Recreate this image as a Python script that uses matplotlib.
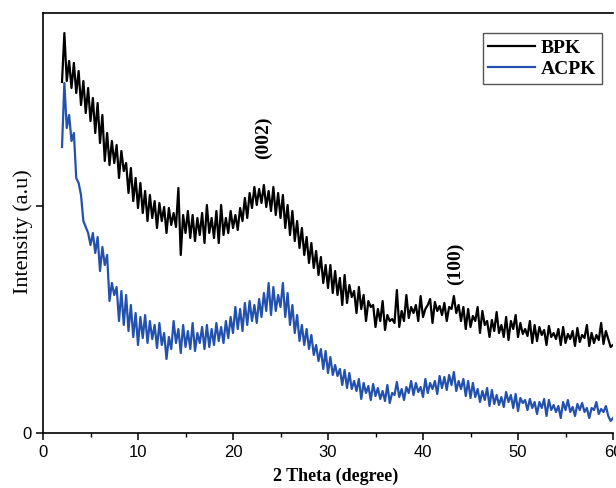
import numpy as np
import matplotlib
matplotlib.use("Agg")
import matplotlib.pyplot as plt
from matplotlib.ticker import MultipleLocator

# 2 theta grid (degree), 0.25 step from 2 to 60
two_theta = np.arange(2.0, 60.001, 0.25)

bpk = [
    351, 400, 352, 372,
    345, 370, 340, 362,
    328, 352, 320, 345,
    312, 335, 300, 330,
    290, 318, 272, 300,
    268, 292, 270, 288,
    255, 282, 262, 270,
    240, 265, 232, 255,
    225, 250, 220, 242,
    212, 238, 215, 232,
    205, 230, 212, 226,
    200, 225, 208, 220,
    206, 245, 178, 218,
    200, 222, 195, 218,
    192, 215, 198, 220,
    190, 228, 200, 215,
    195, 222, 190, 228,
    198, 215, 200, 222,
    205, 218, 203, 225,
    212, 235, 215, 240,
    225, 246, 228, 244,
    230, 248, 226, 242,
    222, 246, 218, 240,
    215, 238, 205, 228,
    198, 222, 192, 212,
    185, 205, 178, 196,
    170, 190, 165, 182,
    158, 176, 150, 168,
    145, 168, 140, 162,
    138, 155, 128, 158,
    130, 148, 136, 142,
    120, 146, 124, 138,
    112, 132, 126, 128,
    106, 124, 112, 132,
    103, 118, 112, 114,
    110, 143, 106, 122,
    112, 138, 115, 126,
    120, 128, 112, 137,
    116, 124, 128, 134,
    110, 131, 122, 127,
    118, 130, 112, 126,
    124, 137, 120, 128,
    112, 126, 104, 124,
    106, 117, 112, 126,
    100, 122, 108, 112,
    96, 113, 102, 121,
    100, 108, 96, 116,
    93, 112, 104, 118,
    96, 110, 99, 104,
    97, 112, 90, 108,
    92, 106, 98, 103,
    88, 107, 96, 100,
    94, 104, 88, 106,
    90, 99, 94, 102,
    87, 105, 91, 98,
    95, 108, 87, 100,
    90, 98, 93, 110,
    89, 102, 94, 86,
    88,
]

acpk = [
    286, 350, 305, 318,
    292, 300, 255, 250,
    238, 212, 206, 200,
    188, 200, 180, 196,
    162, 186, 168, 178,
    132, 150, 138, 146,
    112, 142, 108, 138,
    102, 128, 96, 120,
    88, 116, 95, 118,
    90, 112, 94, 108,
    85, 110, 88, 100,
    74, 96, 84, 112,
    90, 104, 80, 108,
    86, 102, 84, 110,
    82, 100, 90, 106,
    84, 108, 86, 104,
    88, 110, 92, 106,
    90, 112, 95, 116,
    100, 126, 104, 124,
    102, 130, 108, 132,
    112, 128, 110, 134,
    116, 140, 122, 150,
    118, 146, 122, 138,
    126, 150, 116, 140,
    108, 128, 100, 118,
    92, 108, 88, 104,
    84, 98, 78, 88,
    72, 84, 64, 82,
    60, 76, 58, 68,
    57, 64, 48, 63,
    45, 60, 44, 52,
    42, 54, 34, 50,
    40, 47, 33, 49,
    37, 45, 34, 42,
    32, 48, 30, 40,
    38, 51, 36, 44,
    33, 46, 40, 52,
    38, 50, 41, 46,
    36, 54, 40, 50,
    44, 52, 39, 57,
    45, 56, 43, 58,
    48, 61, 42, 52,
    44, 54, 37, 52,
    35, 50, 36, 44,
    31, 42, 33, 45,
    27, 43, 29, 38,
    28, 36, 26, 41,
    31, 38, 25, 39,
    22, 35, 30, 33,
    23, 34, 25, 31,
    19, 31, 25, 34,
    17, 33, 23, 28,
    21, 27, 15, 31,
    23, 33, 21, 26,
    17, 29, 23, 30,
    21, 25, 15, 25,
    23, 31, 19, 24,
    21, 27, 17, 12,
    15,
]

peak_labels = ["(002)", "(100)"]
peak_x = [23.2, 43.4]
peak_y = [295, 169]

serif = "Liberation Serif"
sans = "Liberation Sans"

fig = plt.figure(figsize=(6.16, 4.88), dpi=100)
ax = fig.add_axes([43 / 616, 55 / 488, 570 / 616, 420 / 488])

ax.plot(two_theta, bpk, color="black", lw=1.6, label="BPK")
ax.plot(two_theta, acpk, color="#2251ae", lw=1.6, label="ACPK")

for lab, px, py in zip(peak_labels, peak_x, peak_y):
    ax.text(px, py, lab, rotation=90, ha="center", va="center",
            fontsize=14, fontweight="bold", family=serif)

ax.set_xlim(0, 60)
ax.set_ylim(0, 420)
ax.xaxis.set_major_locator(MultipleLocator(10))
ax.xaxis.set_minor_locator(MultipleLocator(5))
ax.set_yticks([0, 227])
ax.set_yticklabels(["0", ""])
ax.tick_params(axis="both", which="major", direction="out", length=5, width=1.1,
               labelsize=12)
ax.tick_params(axis="x", which="minor", direction="out", length=3, width=1.0)
for t in ax.get_xticklabels() + ax.get_yticklabels():
    t.set_family(sans)

ax.spines["right"].set_visible(False)
for s in ["left", "bottom", "top"]:
    ax.spines[s].set_linewidth(1.2)

ax.set_xlabel("2 Theta (degree)", fontsize=13, fontweight="bold", family=serif)
ax.xaxis.set_label_coords(0.514, -0.082)
ax.set_ylabel("Intensity (a.u)", fontsize=16, family=serif)
ax.yaxis.set_label_coords(-0.018, 0.48)

leg = ax.legend(loc="upper right", bbox_to_anchor=(0.981, 0.952),
                borderaxespad=0,
                prop={"family": serif, "weight": "bold", "size": 14},
                handlelength=2.4, handletextpad=0.3, borderpad=0.3,
                labelspacing=0.2, fancybox=False, framealpha=1)
leg.get_frame().set_edgecolor("#555555")
leg.get_frame().set_linewidth(1.0)

fig.savefig("out.png", dpi=100)
